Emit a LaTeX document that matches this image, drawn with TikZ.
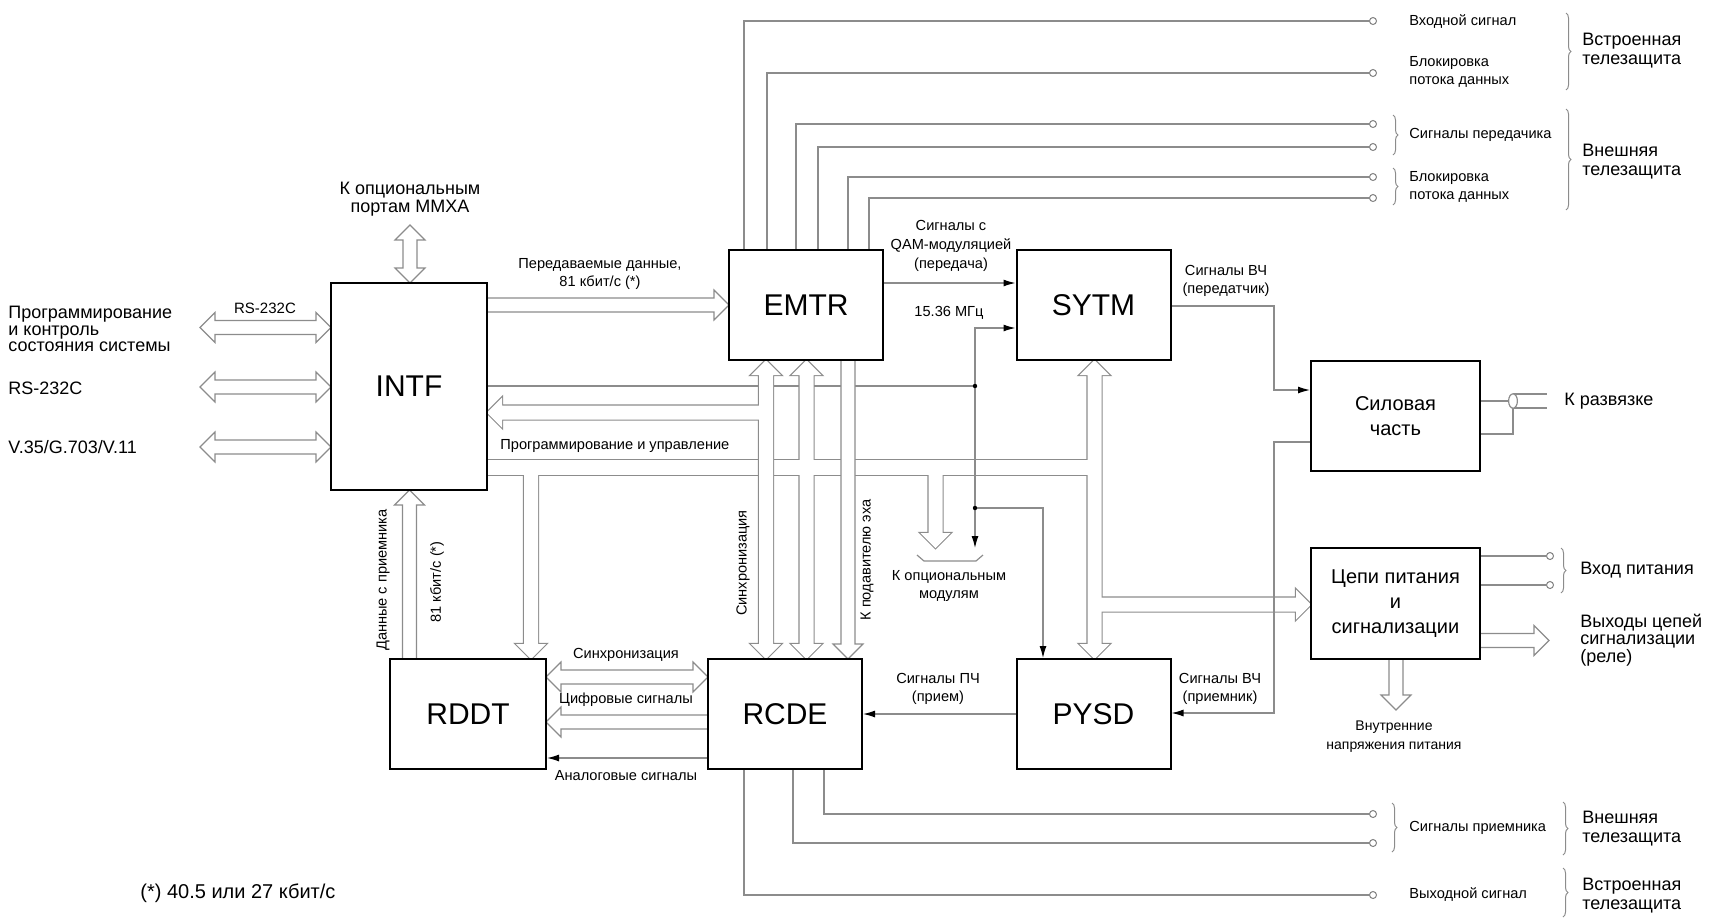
\documentclass[tikz,border=0pt]{standalone}
\usepackage{fontspec}
\setmainfont{Liberation Sans}
\usetikzlibrary{arrows.meta,decorations.pathreplacing,backgrounds}
% hollow arrows: style, tail, tip, other coordinate
\newcommand\harr[4]{\path[#1] (#2,{#4-7}) -- ({#3-15*sign(#3-(#2))},{#4-7}) -- ({#3-15*sign(#3-(#2))},{#4-15}) -- (#3,#4) -- ({#3-15*sign(#3-(#2))},{#4+15}) -- ({#3-15*sign(#3-(#2))},{#4+7}) -- (#2,{#4+7}) -- cycle;}
\newcommand\varr[4]{\path[#1] ({#2-7},#3) -- ({#2-7},{#4-15*sign(#4-(#3))}) -- ({#2-15},{#4-15*sign(#4-(#3))}) -- (#2,#4) -- ({#2+15},{#4-15*sign(#4-(#3))}) -- ({#2+7},{#4-15*sign(#4-(#3))}) -- ({#2+7},#3) -- cycle;}
\newcommand\hdarr[4]{\path[#1] (#2,#4) -- ({#2+15*sign(#3-(#2))},{#4-15}) -- ({#2+15*sign(#3-(#2))},{#4-7}) -- ({#3-15*sign(#3-(#2))},{#4-7}) -- ({#3-15*sign(#3-(#2))},{#4-15}) -- (#3,#4) -- ({#3-15*sign(#3-(#2))},{#4+15}) -- ({#3-15*sign(#3-(#2))},{#4+7}) -- ({#2+15*sign(#3-(#2))},{#4+7}) -- ({#2+15*sign(#3-(#2))},{#4+15}) -- cycle;}
\newcommand\vdarr[4]{\path[#1] (#2,#3) -- ({#2-15},{#3+15*sign(#4-(#3))}) -- ({#2-7},{#3+15*sign(#4-(#3))}) -- ({#2-7},{#4-15*sign(#4-(#3))}) -- ({#2-15},{#4-15*sign(#4-(#3))}) -- (#2,#4) -- ({#2+15},{#4-15*sign(#4-(#3))}) -- ({#2+7},{#4-15*sign(#4-(#3))}) -- ({#2+7},{#3+15*sign(#4-(#3))}) -- ({#2+15},{#3+15*sign(#4-(#3))}) -- cycle;}
\newcommand\busgroup[1]{%
  \path[#1] (487,460) rectangle (1094,475);
  \vdarr{#1}{806.5}{360}{659}
  \varr{#1}{531}{467}{659}
  \varr{#1}{935.5}{467}{548}
  \vdarr{#1}{1094.5}{360}{659}
  \harr{#1}{1094}{1311}{604.5}}
\newcommand\agroup[1]{%
  \vdarr{#1}{766}{360}{659}
  \harr{#1}{766}{487}{412.5}}
\begin{document}
\begin{tikzpicture}[x=0.5pt,y=-0.5pt,
  blk/.style={draw=black,line width=1pt,fill=white,inner sep=0pt,minimum width=77pt,minimum height=55pt,font=\fontsize{15}{18}\selectfont},
  sblk/.style={blk,minimum width=84.5pt,align=center,font=\fontsize{10}{12.5}\selectfont},
  sig/.style={draw=black!45,line width=0.6pt},
  sigarr/.style={sig,-{Latex[length=6pt,width=3.5pt,color=black]}},
  sigboth/.style={sig,{Latex[length=6pt,width=3.5pt,color=black]}-{Latex[length=6pt,width=3.5pt,color=black]}},
  hol/.style={draw=black!45,line width=0.6pt,fill=white},
  ustroke/.style={draw=black!45,line width=1.2pt},
  ufill/.style={fill=white},
  term/.style={circle,draw=black!50,fill=white,line width=0.5pt,minimum size=3.5pt,inner sep=0pt},
  brc/.style={draw=black!45,line width=0.5pt,decorate,decoration={brace,amplitude=2.5pt}},
  lbl/.style={inner sep=0pt,align=center,font=\fontsize{7.3}{9.2}\selectfont},
  lbll/.style={inner sep=0pt,anchor=west,align=left,font=\fontsize{7.3}{9}\selectfont},
  big/.style={inner sep=0pt,anchor=west,align=left,font=\fontsize{9}{9.5}\selectfont}]
\useasboundingbox (0,0) rectangle (1710,918);

% ---------- blocks ----------
\node[blk,minimum width=78pt,minimum height=103.5pt] (intf) at (409,386.5) {INTF};
\node[blk] (emtr) at (806,305) {EMTR};
\node[blk] (sytm) at (1093.5,305) {SYTM};
\node[sblk] (sil) at (1395.5,416) {Силовая\\часть};
\node[sblk,minimum height=55.5pt] (pwr) at (1395.5,603.5) {Цепи питания\\и\\сигнализации};
\node[blk,minimum width=78pt] (rddt) at (468,714) {RDDT};
\node[blk] (rcde) at (785,714) {RCDE};
\node[blk] (pysd) at (1093.5,714) {PYSD};

% ---------- terminals ----------
\node[term] (t1) at (1373,21) {};
\node[term] (t2) at (1373,73) {};
\node[term] (t3) at (1373,124) {};
\node[term] (t4) at (1373,147) {};
\node[term] (t5) at (1373,177) {};
\node[term] (t6) at (1373,198) {};
\node[term] (b1) at (1373,814) {};
\node[term] (b2) at (1373,843) {};
\node[term] (b3) at (1373,895) {};
\node[term] (p1) at (1550,556) {};
\node[term] (p2) at (1550,585) {};

\coordinate (j1) at (975,386);
\coordinate (j2) at (975,508);

\begin{pgfonlayer}{background}
% thin lines hidden under buses
\draw[sig] (intf.east |- j1) -- (j1);
% top terminal lines
\draw[sig] (t1.west) -| (744,250);
\draw[sig] (t2.west) -| (767,250);
\draw[sig] (t3.west) -| (796,250);
\draw[sig] (t4.west) -| (818,250);
\draw[sig] (t5.west) -| (848,250);
\draw[sig] (t6.west) -| (869,250);
% bottom terminal lines
\draw[sig] (824,769) |- (b1.west);
\draw[sig] (793,769) |- (b2.west);
\draw[sig] (744,769) |- (b3.west);
% power terminals
\draw[sig] (1480,556) -- (p1.west);
\draw[sig] (1480,585) -- (p2.west);

% bus (union)
\busgroup{ustroke}
\busgroup{ufill}
% sync shaft with branch to INTF (union)
\agroup{ustroke}
\agroup{ufill}
% echo canceller shaft
\varr{hol}{848}{360}{659}

% other hollow arrows
\vdarr{hol}{410}{225}{283}
\hdarr{hol}{200}{331}{327.5}
\hdarr{hol}{200}{331}{387}
\hdarr{hol}{200}{331}{447}
\harr{hol}{487}{729}{305}
\varr{hol}{409.5}{659}{490}
\hdarr{hol}{546}{708}{677}
\harr{hol}{708}{546}{722}
\harr{hol}{1480}{1549}{640.5}
\varr{hol}{1396}{659}{710}

% thin signal lines on top
\draw[sigarr] (emtr.east |- 0,283) -- (sytm.west |- 0,283);
\draw[sigboth] (975,548) -- (975,328) -- (sytm.west |- 0,328);
\draw[sigarr] (j2) -- (1043,508) -- (pysd.north -| 1043,0);
\draw[sigarr] (sytm.east |- 0,306) -- (1274,306) -- (1274,390) -- (sil.west |- 0,390);
\draw[sigarr] (sil.west |- 0,442) -- (1274,442) -- (1274,713) -- (pysd.east |- 0,713);
\draw[sigarr] (pysd.west) -- (rcde.east);
\draw[sigarr] (rcde.west |- 0,758) -- (rddt.east |- 0,758);
\fill (j1) circle (1.1pt);
\fill (j2) circle (1.1pt);
% bracket to optional modules
\draw[sig] (917,555) -- (924,561) -- (976,561) -- (983,555);
% coax to isolation
\draw[sig] (sil.east |- 0,401) -- (1513,401);
\draw[sig] (sil.east |- 0,434) -- (1513,434) -- (1513,408);
\draw[sig] (1513,394) -- (1547,394);
\draw[sig] (1513,408) -- (1547,408);
\draw[sig,fill=white] (1513,401) ellipse (2.2pt and 3.6pt);

% braces
\draw[brc] (1566,13) -- (1566,90);
\draw[brc] (1566,109) -- (1566,210);
\draw[brc] (1393,115) -- (1393,155);
\draw[brc] (1393,168) -- (1393,205);
\draw[brc] (1561,548) -- (1561,593);
\draw[brc] (1392,803) -- (1392,852);
\draw[brc] (1563,802) -- (1563,855);
\draw[brc] (1563,868) -- (1563,917);
\end{pgfonlayer}

% ---------- labels ----------
\node[inner sep=0pt,align=center,font=\fontsize{9}{9.2}\selectfont] (lmmxa) at (410,199) {К опциональным\\портам ММХА};
\node[inner sep=0pt,font=\fontsize{7.5}{9}\selectfont] (lrs1) at (265,308) {RS-232C};
\node[inner sep=0pt,anchor=west,align=left,font=\fontsize{9}{8.3}\selectfont] (lprog) at (8,329) {Программирование\\и контроль\\состояния системы};
\node[big] (lrs2) at (8,388) {RS-232C};
\node[big] (lv35) at (8,447) {V.35/G.703/V.11};
\node[lbl] (ltx) at (600,274) {Передаваемые данные,\\81 кбит/с (*)};
\node[lbl,font=\fontsize{7.3}{9.5}\selectfont] (lqam) at (951,246) {Сигналы с\\QAM-модуляцией\\(передача)};
\node[lbl] (lclk) at (949,313) {15.36 МГц};
\node[lbl] (lrft) at (1226,281) {Сигналы ВЧ\\(передатчик)};
\node[lbl,anchor=west] (lpu) at (500,446) {Программирование и управление};
\node[lbl,rotate=90] (lsy1) at (743,563) {Синхронизация};
\node[lbl,rotate=90] (lecho) at (867,560) {К подавителю эха};
\node[lbl,rotate=90] (lrx) at (383,580) {Данные с приемника};
\node[lbl,rotate=90] (l81) at (437,582) {81 кбит/с (*)};
\node[lbl,font=\fontsize{7.3}{8.8}\selectfont] (lopt) at (949,586) {К опциональным\\модулям};
\node[lbl] (lsy2) at (626,655) {Синхронизация};
\node[lbl] (ldig) at (626,700) {Цифровые сигналы};
\node[lbl] (lana) at (626,776) {Аналоговые сигналы};
\node[lbl] (lif) at (938,689) {Сигналы ПЧ\\(прием)};
\node[lbl] (lrfr) at (1220,689) {Сигналы ВЧ\\(приемник)};
\node[lbl,font=\fontsize{7}{9.5}\selectfont] (lint) at (1394,737) {Внутренние\\напряжения питания};
\node[big] (liso) at (1564,401) {К развязке};
\node[big] (lpin) at (1580,570) {Вход питания};
\node[big,font=\fontsize{9}{8.75}\selectfont] (lrel) at (1580,640) {Выходы цепей\\сигнализации\\(реле)};
\node[lbll] (lin) at (1409,22) {Входной сигнал};
\node[lbll] (lbk1) at (1409,72) {Блокировка\\потока данных};
\node[lbll] (ltxs) at (1409,135) {Сигналы передачика};
\node[lbll] (lbk2) at (1409,186.5) {Блокировка\\потока данных};
\node[lbll] (lrxs) at (1409,828) {Сигналы приемника};
\node[lbll] (lout) at (1409,895) {Выходной сигнал};
\node[big] (lvs1) at (1582,50.5) {Встроенная\\телезащита};
\node[big] (lvn1) at (1582,161.5) {Внешняя\\телезащита};
\node[big] (lvn2) at (1582,829) {Внешняя\\телезащита};
\node[big] (lvs2) at (1582,896) {Встроенная\\телезащита};
\node[big,font=\fontsize{10}{11}\selectfont] (lfoot) at (140,893) {(*) 40.5 или 27 кбит/с};
\end{tikzpicture}
\end{document}
